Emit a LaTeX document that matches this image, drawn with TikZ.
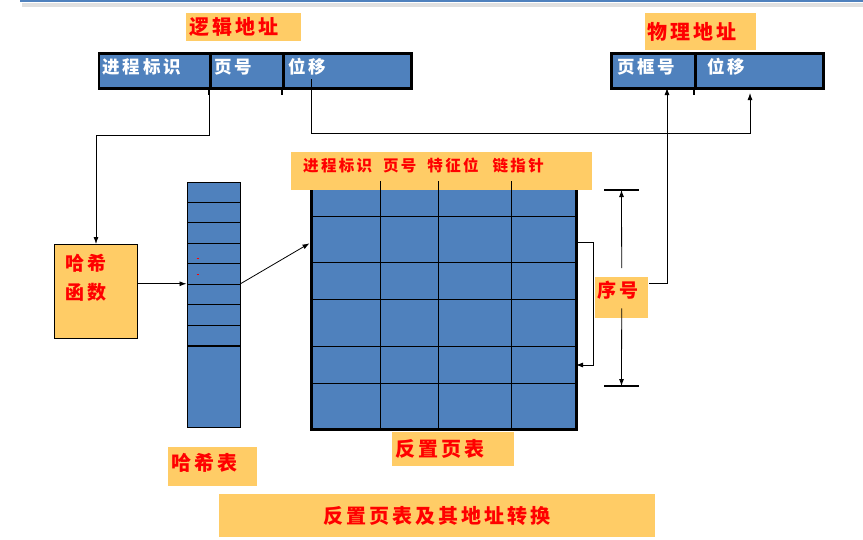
\documentclass[tikz,border=0pt]{standalone}
\usepackage{fontspec}
\usetikzlibrary{arrows.meta}

\newfontfamily\cjk[LetterSpace=15]{Noto Sans CJK SC}

\definecolor{cellblue}{HTML}{4F81BD}
\definecolor{tagorange}{HTML}{FFCC66}

\tikzset{
  field/.style={draw, line width=2.5pt, fill=cellblue, anchor=north west,
    inner xsep=4pt, inner ysep=0pt, minimum height=35pt, align=left,
    text height=10pt, text depth=4pt,
    text=white, font=\cjk\bfseries\fontsize{17.5}{20}\selectfont},
  tag/.style={fill=tagorange, anchor=north west, inner xsep=3pt, inner ysep=0pt,
    align=left, text=red, font=\cjk\bfseries\fontsize{20}{24}\selectfont},
  cell/.style={draw, line width=1pt, fill=cellblue, anchor=north west,
    inner sep=0pt, minimum width=53pt},
  arr/.style={-{Latex[length=7pt,width=5pt]}, line width=0.8pt},
}

\begin{document}
\begin{tikzpicture}[x=1pt, y=-1pt]

  \useasboundingbox (0,0) rectangle (863,539);

  % top rule of the slide
  \draw[black!12, line width=4pt] (22,5) -- (863,5);
  \draw[cellblue, line width=2pt] (20,1) -- (863,1);

  % logical address
  \node[tag, text width=109pt, minimum height=28pt] (logtag) at (186,13) {逻辑地址};
  \node[field, text width=103.5pt] (pid) at (97.5,52) {进程标识};
  \node[field, text width=65pt] (pageno) at (209,52) {页号};
  \node[field, text width=120pt] (loff) at (282,52) {\hspace{1pt}位移};
  \draw[line width=2pt] (pageno.south west) -- ++(0,5);
  \draw[line width=2pt] (loff.south west) -- ++(0,5);

  % physical address
  \node[tag, text width=107pt, minimum height=37pt, inner xsep=2pt] (phystag) at (645,12.7) {物理地址};
  \node[field, text width=76pt, inner xsep=6pt] (frame) at (610,52) {页框号};
  \node[field, text width=116pt, inner xsep=6pt] (poff) at (694,52) {\hspace{6pt}位移};
  \draw[line width=2pt] (poff.south west) -- ++(0,5);

  % hash function
  \node[tag, draw, line width=1pt, minimum width=83pt, minimum height=94pt] (hashfn) at (54,244) {};
  \node[anchor=north west, inner sep=0pt, align=left, text=red,
    font=\cjk\bfseries\fontsize{19}{29}\selectfont] (hashfntxt) at (65,254) {哈希\\函数};

  % hash table
  \foreach \i in {1,...,9}
    \node[cell, minimum height=20.45pt] (h\i) at (186.5,{181.5+20.45*(\i-1)}) {};
  \node[cell, minimum height=81.5pt] (h10) at (186.5,345.6) {};
  \draw[red, line width=1pt] (196.5,258) -- (199,258);
  \draw[red, line width=1pt] (196.5,274.3) -- (199,274.3);

  % inverted page table
  \node[draw, line width=3pt, fill=cellblue, anchor=north west, inner sep=0pt,
    minimum width=265pt, minimum height=247pt] (ipt) at (310,181) {};
  \foreach \y in {216.3,262.3,299.3,346.3,383.3}
    \draw[line width=1.2pt] (310,\y) -- (575,\y);
  \node[tag, text width=277pt, minimum height=38pt, inner xsep=12pt,
    text height=8pt, text depth=8pt,
    font=\cjk\bfseries\fontsize{15.5}{18}\selectfont] (ipthead) at (291,152)
    {进程标识\hspace{11pt}页号\hspace{11pt}特征位\hspace{14pt}链指针};
  \foreach \x in {380.3,438.3,511.3}
    \draw[line width=1.2pt] (\x,181) -- (\x,428);

  % sequence number
  \node[tag, text width=49pt, minimum height=41pt, inner xsep=2pt,
    text height=10pt, text depth=10pt,
    font=\cjk\bfseries\fontsize{19}{22}\selectfont] (seq) at (595,277) {序号};
  \coordinate (dimtop) at (621.5,190);
  \coordinate (dimbot) at (621.5,386);
  \draw[line width=1.5pt] ([xshift=-17.5pt]dimtop) -- ([xshift=17.5pt]dimtop);
  \draw[line width=1.5pt] ([xshift=-17.5pt]dimbot) -- ([xshift=17.5pt]dimbot);
  \draw[arr] ([yshift=9pt]seq.north) -- (dimtop);
  \draw[arr] ([yshift=10pt]seq.south) -- (dimbot);

  % labels
  \node[tag, text width=116pt, minimum height=34pt] (ipttag) at (392,432) {反置页表};
  \node[tag, text width=83pt, minimum height=39pt, text height=12pt, text depth=4pt] (httag) at (168,447) {哈希表};
  \node[tag, align=center, text width=430pt, minimum height=43pt] (title) at (219,494) {反置页表及其地址转换};

  % connectors
  \coordinate (offsrc) at (311,79);
  \coordinate (offdst) at (750,93);
  \coordinate (frmdst) at (667,88);
  \coordinate (seqout) at (649,283);
  \coordinate (iptin) at (309.5,243.3);
  \coordinate (brtop) at (575,242.7);
  \coordinate (brbot) at (576,365);

  \draw[arr] (pageno.south west) -- ++(0,46) -| (hashfn.north);
  \draw[arr] (offsrc) -- (offsrc |- 0,133) -| (offdst);
  \draw[arr] (seqout) -| (frmdst);
  \draw[arr] (hashfn.east |- h6.north west) -- (h6.north west);
  \draw[arr] (h6.north east) -- (iptin);
  \draw[arr] (brtop) -- ++(18,0) |- (brbot);

\end{tikzpicture}
\end{document}
